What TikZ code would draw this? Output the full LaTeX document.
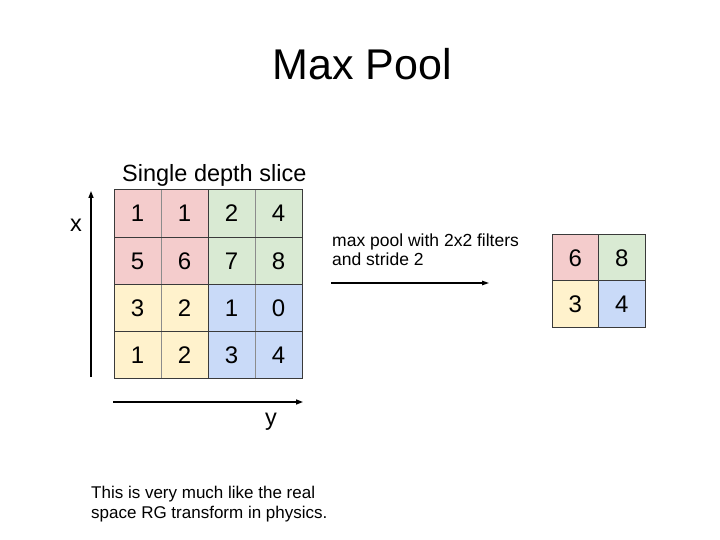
\documentclass[tikz,border=0pt]{standalone}
\usepackage{fontspec}
\setmainfont{Liberation Sans}
\usetikzlibrary{arrows.meta}
\definecolor{cred}{HTML}{F4CCCC}
\definecolor{cgreen}{HTML}{D9EAD3}
\definecolor{cyellow}{HTML}{FFF2CC}
\definecolor{cblue}{HTML}{C9DAF8}
\definecolor{darkline}{HTML}{3A3A3A}
\definecolor{lightline}{HTML}{8C8C8C}
\tikzset{
  digit/.style={anchor=base, inner sep=0pt, font=\fontsize{24}{26}\selectfont},
  lbl/.style={anchor=base west, inner sep=0pt},
  axis/.style={line width=1.4pt, -{Triangle[length=7pt,width=5pt]}},
  thinl/.style={lightline, line width=0.7pt},
  darkl/.style={darkline, line width=1pt},
}
\begin{document}
\begin{tikzpicture}[x=1pt,y=-1pt]
\useasboundingbox (0,0) rectangle (720,540);
\fill[white] (0,0) rectangle (720,540);
% title
\node[anchor=base, inner sep=0pt, font=\fontsize{43}{46}\selectfont] (title) at (362,80) {Max Pool};
% big grid
\fill[cred] (114,190) rectangle (208,284);
\fill[cgreen] (208,190) rectangle (302,284);
\fill[cyellow] (114,284) rectangle (208,378);
\fill[cblue] (208,284) rectangle (302,378);
\draw[thinl] (161,190) -- (161,378) (255,190) -- (255,378);
\draw[darkl] (114,237) -- (302,237) (114,331) -- (302,331) (114,284) -- (302,284) (208,190) -- (208,378);
\draw[darkl] (114,190) rectangle (302,378);
\node[lbl, font=\fontsize{23.5}{26}\selectfont] (slice) at (122,182) {Single depth slice};
\foreach \r/\row in {0/{1,1,2,4},1/{5,6,7,8},2/{3,2,1,0},3/{1,2,3,4}}{
  \foreach \v [count=\c from 0] in \row {
    \node[digit] (g\r\c) at ({137.5+47*\c},{222+47*\r}) {\v};
  }
}
% axes
\coordinate (xs) at (91,377);
\coordinate (xe) at (91,191);
\draw[axis] (xs) -- (xe);
\node[anchor=center, inner sep=0pt, font=\fontsize{23.5}{26}\selectfont] (xl) at (76,225) {x};
\coordinate (ys) at (113,402);
\coordinate (ye) at (303,402);
\draw[axis] (ys) -- (ye);
\node[anchor=base, inner sep=0pt, font=\fontsize{23.5}{26}\selectfont] (yl) at (271,425) {y};
% middle
\node[lbl, font=\fontsize{17.5}{19}\selectfont] (mp1) at (332,246) {max pool with 2x2 filters};
\node[lbl, font=\fontsize{17.5}{19}\selectfont] (mp2) at (332,265) {and stride 2};
\coordinate (as) at (331,283);
\coordinate (ae) at (489,283);
\draw[line width=1.2pt, -{Triangle[length=7pt,width=4.5pt]}] (as) -- (ae);
% small grid
\fill[cred] (552,234) rectangle (598.5,280.5);
\fill[cgreen] (598.5,234) rectangle (645,280.5);
\fill[cyellow] (552,280.5) rectangle (598.5,327);
\fill[cblue] (598.5,280.5) rectangle (645,327);
\draw[darkl] (552,280.5) -- (645,280.5) (598.5,234) -- (598.5,327);
\draw[darkl] (552,234) rectangle (645,327);
\node[digit] (s00) at (575.25,266) {6};
\node[digit] (s01) at (621.75,266) {8};
\node[digit] (s10) at (575.25,312.5) {3};
\node[digit] (s11) at (621.75,312.5) {4};
% bottom text
\node[lbl, font=\fontsize{17}{19}\selectfont] (b1) at (91,498) {This is very much like the real};
\node[lbl, font=\fontsize{17}{19}\selectfont] (b2) at (91,518) {space RG transform in physics.};
\end{tikzpicture}
\end{document}
